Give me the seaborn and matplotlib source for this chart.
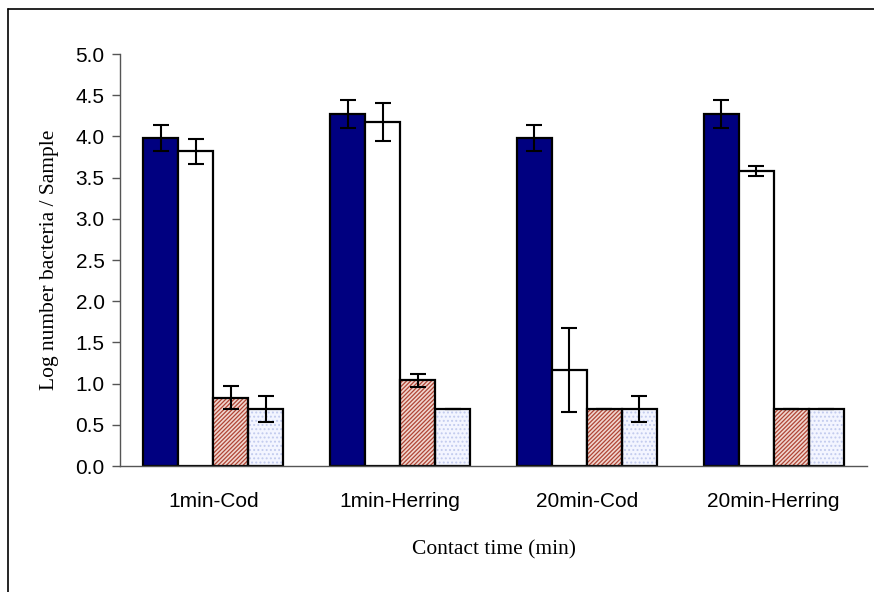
import numpy as np
import pandas as pd
import matplotlib
matplotlib.use("Agg")
import matplotlib.pyplot as plt
import seaborn as sns
from matplotlib.patches import Rectangle
from matplotlib.lines import Line2D

# ---- data ----
categories = ["1min-Cod", "1min-Herring", "20min-Cod", "20min-Herring"]
series = ["Series 1", "Series 2", "Series 3", "Series 4"]
values_s1 = [3.98, 4.27, 3.98, 4.27]
errors_s1 = [0.16, 0.17, 0.16, 0.17]
values_s2 = [3.82, 4.17, 1.17, 3.58]
errors_s2 = [0.15, 0.23, 0.51, 0.06]
values_s3 = [0.83, 1.04, 0.69, 0.69]
errors_s3 = [0.14, 0.08, 0.0, 0.0]
values_s4 = [0.69, 0.69, 0.69, 0.69]
errors_s4 = [0.16, 0.0, 0.16, 0.0]
yticks = [0.0, 0.5, 1.0, 1.5, 2.0, 2.5, 3.0, 3.5, 4.0, 4.5, 5.0]
xlabel = "Contact time (min)"
ylabel = "Log number bacteria / Sample"

all_values = [values_s1, values_s2, values_s3, values_s4]
all_errors = [errors_s1, errors_s2, errors_s3, errors_s4]

rows = []
for s, vals in zip(series, all_values):
    for c, v in zip(categories, vals):
        rows.append({"cat": c, "series": s, "value": v})
df = pd.DataFrame(rows)

sns.set_theme(style="white")
plt.rcParams["font.family"] = ["Liberation Sans", "DejaVu Sans"]
plt.rcParams["hatch.linewidth"] = 0.9

fig = plt.figure(figsize=(8.74, 5.92), dpi=100)
ax = fig.add_axes([120 / 874, 1 - 466 / 592, (867 - 120) / 874, (466 - 54) / 592])

face_colors = ["#000080", "#ffffff", "#f0d6cf", "#f3f5ff"]
palette = dict(zip(series, face_colors))
sns.barplot(data=df, x="cat", y="value", hue="series", palette=palette,
            order=categories, hue_order=series, width=0.75, gap=0,
            saturation=1, legend=False, ax=ax, errorbar=None,
            edgecolor="black", linewidth=1.6)

hatch_specs = [None, None, ("////////", "#b04535"), ("....", "#c2cbee")]
bar_containers = list(ax.containers)
for i, cont in enumerate(bar_containers):
    spec = hatch_specs[i]
    xs, ys = [], []
    for bar in cont:
        xs.append(bar.get_x() + bar.get_width() / 2)
        ys.append(bar.get_height())
        if spec is not None:
            bar.set_hatch(spec[0])
            bar.set_edgecolor(spec[1])
            bar.set_linewidth(0)
            ax.add_patch(Rectangle(bar.get_xy(), bar.get_width(), bar.get_height(),
                                   fill=False, edgecolor="black", linewidth=1.6,
                                   zorder=bar.get_zorder() + 0.1))
    errs = all_errors[i]
    ax.errorbar(xs, ys, yerr=errs, fmt="none", ecolor="black",
                elinewidth=1.5, capsize=6, capthick=1.5, zorder=5)

ax.set_xlim(-0.5, len(categories) - 0.5)
ax.set_ylim(0, 5.0)
ax.set_yticks(yticks)
ax.set_yticklabels([f"{t:.1f}" for t in yticks])
ax.set_xticks(range(len(categories)))
ax.set_xticklabels(categories)
ax.set_xticks(np.arange(-0.5, len(categories), 1.0), minor=True)

ax.tick_params(axis="x", which="major", length=0, pad=19, labelsize=15, colors="black")
ax.tick_params(axis="x", which="minor", length=6, width=1, color="#555555", direction="out")
ax.tick_params(axis="y", which="major", length=6, width=1, color="#555555",
               direction="out", left=True, pad=5, labelsize=15, labelcolor="black")

for side in ["top", "right"]:
    ax.spines[side].set_visible(False)
for side in ["left", "bottom"]:
    ax.spines[side].set_color("#555555")
    ax.spines[side].set_linewidth(1)
ax.set_facecolor("white")

ax.set_xlabel(xlabel, family=["Liberation Serif", "DejaVu Serif"], fontsize=15.5,
              labelpad=21, color="black")
ax.set_ylabel(ylabel, family=["Liberation Serif", "DejaVu Serif"], fontsize=15.5,
              labelpad=12, color="black")

# outer frame (cropped at right and bottom)
fig.add_artist(Line2D([8 / 874, 8 / 874], [0, 1 - 9 / 592], transform=fig.transFigure,
                      color="black", linewidth=1.2))
fig.add_artist(Line2D([8 / 874, 1], [1 - 9 / 592, 1 - 9 / 592], transform=fig.transFigure,
                      color="black", linewidth=1.2))

fig.savefig("out.png", dpi=100, facecolor="white")
